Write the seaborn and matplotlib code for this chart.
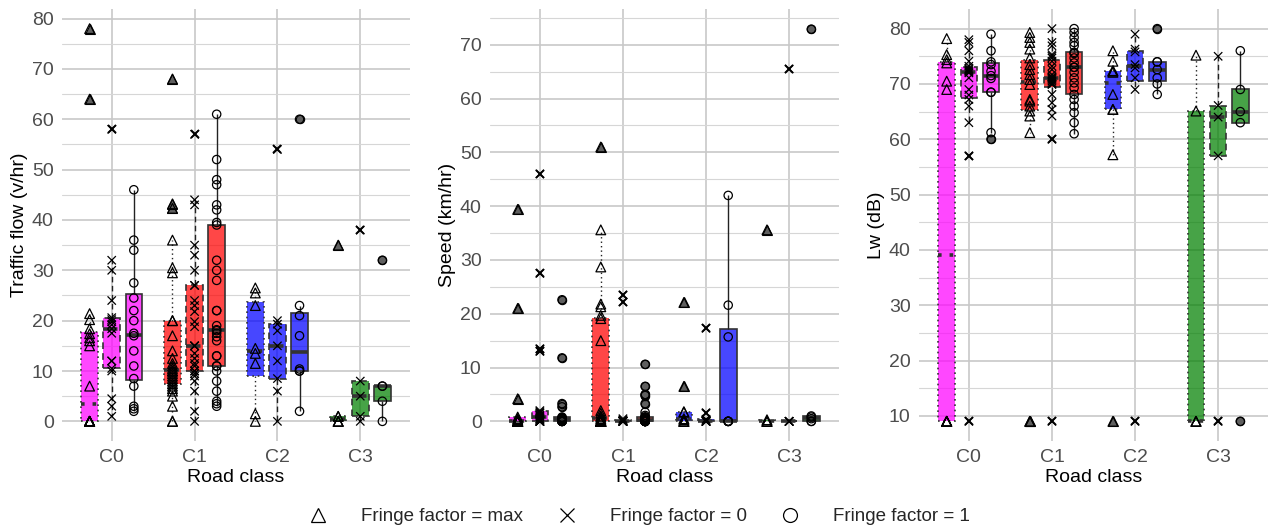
import numpy as np
import pandas as pd
import matplotlib
matplotlib.use("Agg")
import matplotlib.pyplot as plt
import seaborn as sns
from matplotlib.lines import Line2D
from matplotlib.colors import to_rgba
from matplotlib.ticker import MultipleLocator

# ---------------- data ----------------
classes = ["C0", "C1", "C2", "C3"]
fringe_levels = ["max", "0", "1"]
fringe_labels = ["Fringe factor = max", "Fringe factor = 0", "Fringe factor = 1"]
class_colors = ["#FF00FF", "#FF0000", "#0000FF", "#008000"]

# Traffic flow (v/hr)
flow_max = {
    "C0": [0, 0, 0, 0, 0, 0, 0, 0, 0, 0, 7, 15, 16, 16.6, 17.4, 18.4, 20.2, 21.4, 64, 78],
    "C1": [0, 0, 3, 5, 6, 6.5, 7, 7.5, 8, 8.5, 9, 9.5, 10, 10, 10.5, 11, 11.5, 12.5, 14, 17,
           20, 20, 29.5, 30.5, 36, 42.3, 43.2, 68],
    "C2": [0, 1.5, 11.5, 13.5, 14.5, 23, 25.5, 26.5],
    "C3": [0, 0, 0, 1, 1, 35],
}
flow_0 = {
    "C0": [1, 3, 4.5, 10, 10.5, 12, 12, 17.5, 18.4, 19.2, 19.8, 20.2, 20.6, 24, 30, 32, 58],
    "C1": [0, 2, 6, 8, 9, 9.5, 10, 10, 11, 11.5, 12.5, 13.5, 15, 15, 15, 18.8, 19.8, 21.8, 23,
           24, 27, 27, 30, 33, 35, 43, 44, 57],
    "C2": [0, 6, 8.5, 12, 15, 18, 19.3, 20, 54],
    "C3": [0, 1, 5, 8, 38],
}
flow_1 = {
    "C0": [2, 2.5, 3, 7, 8.5, 11, 14, 17, 17.5, 20, 22, 24.5, 27.5, 34, 36, 46],
    "C1": [3, 3.5, 4, 6, 8, 10, 11, 11, 13, 13, 16, 16.8, 17.5, 18, 18.2, 19, 22, 22, 28, 30,
           32, 39, 39.5, 42, 43, 47, 48, 52, 61],
    "C2": [2, 10, 10, 10.4, 17, 21, 23, 60],
    "C3": [0, 4, 7, 7, 32],
}

# Speed (km/hr)
speed_max = {
    "C0": [0, 0, 0, 0, 0, 0, 0, 0, 0.3, 0.5, 0.8, 4.2, 21, 39.4],
    "C1": [0, 0, 0, 0, 0, 0, 0, 0, 0, 0, 0.3, 0.5, 0.8, 1, 1.5, 2, 15, 19.1, 19.7, 21.3, 21.8,
           28.7, 35.6, 51],
    "C2": [0, 0, 0, 0.3, 0.5, 1.7, 1.8, 6.5, 22.1],
    "C3": [0, 0, 0, 0.3, 35.6],
}
speed_0 = {
    "C0": [0, 0, 0, 0, 0, 0.2, 0.3, 0.5, 0.5, 0.8, 1, 1.2, 1.5, 1.6, 1.8, 2, 13, 13.5, 27.5, 46],
    "C1": [0, 0, 0, 0, 0, 0, 0, 0, 0.1, 0.2, 0.3, 0.5, 22.2, 23.5],
    "C2": [0, 0, 0, 0, 0, 0.2, 0.4, 1.6, 17.3],
    "C3": [0, 0, 0, 0, 0, 65.5],
}
speed_1 = {
    "C0": [0, 0, 0, 0, 0, 0, 0.2, 0.3, 0.4, 0.5, 0.5, 0.6, 0.7, 0.8, 2.7, 3.3, 11.8, 22.6],
    "C1": [0, 0, 0, 0, 0, 0, 0, 0, 0, 0, 0, 0, 0, 0, 0.2, 0.3, 0.4, 0.5, 0.6, 0.7, 0.8, 0.8,
           1.1, 1.7, 3.3, 4.8, 5, 6.5, 10.6],
    "C2": [0, 0, 0, 0, 0, 15.7, 21.6, 42],
    "C3": [0, 0, 0.5, 0.8, 1, 72.9],
}

# Lw (dB)
lw_max = {
    "C0": [9, 9, 9, 9, 9, 9, 69, 70.5, 73.8, 74.4, 75.3, 78.2],
    "C1": [9, 9, 61.2, 64.2, 65.1, 66, 66.9, 67.2, 69.9, 70.8, 71.7, 72.6, 73.5, 74.7, 76.3,
           77.5, 78.4, 79.3],
    "C2": [9, 57.2, 65.4, 65.4, 68.1, 72.1, 72.3, 72.4, 74.1, 76],
    "C3": [9, 9, 9, 65.1, 75.2],
}
lw_0 = {
    "C0": [9, 57, 63, 66, 67.2, 68, 69, 71.1, 72, 72.2, 72.4, 72.6, 72.8, 73.2, 74.1, 76, 77.5, 78],
    "C1": [9, 60, 64.2, 65.4, 66.6, 68.1, 69.9, 70, 70.2, 70.5, 70.8, 71, 71.1, 71.3, 71.7, 72.6,
           73.2, 74.1, 74.7, 75, 75.3, 76.9, 77.5, 80],
    "C2": [9, 69, 71.1, 72.9, 73.5, 75.8, 76.3, 79],
    "C3": [9, 57, 64, 66.1, 75],
}
lw_1 = {
    "C0": [60, 61.2, 68.5, 68.5, 71, 71.5, 72.3, 73.5, 74, 76, 79],
    "C1": [61, 63, 64.8, 66, 67.2, 68.1, 69.3, 70.2, 71.1, 72.1, 73, 73, 73.8, 74.7, 75.5, 75.7,
           76.9, 77.5, 78.4, 79.3, 80],
    "C2": [68.1, 70, 71.1, 72.6, 74, 74, 80],
    "C3": [9, 63, 65, 69, 76],
}

panel_titles = ["Traffic flow (v/hr)", "Speed (km/hr)", "Lw (dB)"]
panel_data = [(flow_max, flow_0, flow_1), (speed_max, speed_0, speed_1), (lw_max, lw_0, lw_1)]
panel_ylim = [(-3.9, 81.9), (-3.65, 76.65), (5.45, 83.55)]


def to_frame(groups):
    rows = []
    for f, g in zip(fringe_levels, groups):
        for c in classes:
            for v in g[c]:
                rows.append((c, f, v))
    return pd.DataFrame(rows, columns=["cls", "fringe", "val"])


# ---------------- style ----------------
sns.set_style("white")
plt.rcParams["font.family"] = ["Liberation Sans", "DejaVu Sans"]

markers = {"max": "^", "0": "x", "1": "o"}
msize = {"max": 7, "0": 6, "1": 6}
lstyles = {"max": (0, (1, 2.2)), "0": (0, (4, 2.5)), "1": "-"}
edge = "#333333"

fig = plt.figure(figsize=(12.71, 5.31), dpi=100)
bounds = [(62, 410), (490, 839), (919, 1268)]
W, H = 1271, 531
axes = [fig.add_axes([l / W, (H - 441) / H, (r - l) / W, 432 / H]) for l, r in bounds]

for ax, groups, ylab, ylim in zip(axes, panel_data, panel_titles, panel_ylim):
    df = to_frame(groups)
    for f in fringe_levels:
        sub = df[df["fringe"] == f]
        sns.boxplot(data=sub, x="cls", y="val", hue="fringe", order=classes,
                    hue_order=fringe_levels, dodge=True, width=0.8, gap=0.25,
                    showcaps=False, linewidth=1.2, linecolor=edge, saturation=1,
                    palette=["white"] * 3, legend=False, ax=ax, whis=1.5,
                    medianprops=dict(linewidth=2.6, color=edge),
                    flierprops=dict(marker=markers[f], markersize=msize[f],
                                    markerfacecolor="#5f5f5f", markeredgecolor="black",
                                    markeredgewidth=0.8))
        cont = ax.containers[-1]
        for i, box in enumerate(cont.boxes):
            box.set_facecolor(to_rgba(class_colors[i], 0.72))
            box.set_edgecolor(edge)
            box.set_linestyle(lstyles[f])
            box.set_zorder(2)
        for w in cont.whiskers:
            w.set_linestyle(lstyles[f])
            w.set_color("#222222")
            w.set_linewidth(1.0)
        for m in cont.medians:
            m.set_linestyle(lstyles[f] if f != "0" else (0, (4, 1.5)))
            m.set_zorder(2.5)
        for fl in cont.fliers:
            fl.set_marker(markers[f])
            fl.set_markersize(msize[f])
            fl.set_markerfacecolor("#5f5f5f")
            fl.set_markeredgecolor("black")
            fl.set_markeredgewidth(0.8 if f != "0" else 1.4)
            fl.set_zorder(3)

        n1 = len(ax.collections)
        sns.stripplot(data=sub, x="cls", y="val", hue="fringe", order=classes,
                      hue_order=fringe_levels, dodge=True, jitter=False,
                      marker=markers[f], size=msize[f], legend=False, ax=ax,
                      palette=["black"] * 3)
        for coll in ax.collections[n1:]:
            coll.set_facecolor("none")
            coll.set_edgecolor("black")
            coll.set_linewidth(0.9)
            coll.set_zorder(4)

    ax.set_xlim(-0.6, 3.6)
    ax.set_ylim(*ylim)
    ax.yaxis.set_major_locator(MultipleLocator(10))
    ax.yaxis.set_minor_locator(MultipleLocator(5))
    ax.set_axisbelow(True)
    ax.grid(which="major", axis="both", color="#C8C8C8", linewidth=1.2)
    ax.grid(which="minor", axis="y", color="#D6D6D6", linewidth=0.8)
    ax.tick_params(which="minor", length=0)
    ax.tick_params(which="major", length=4, width=0.8, color=edge, labelsize=14,
                   labelcolor="#4D4D4D", pad=2)
    for s in ax.spines.values():
        s.set_visible(False)
    ax.set_xlabel("Road class", fontsize=14, color="black", labelpad=2)
    ax.set_ylabel(ylab, fontsize=14, color="black", labelpad=3)

handles = [Line2D([], [], marker=markers[f], linestyle="none", markerfacecolor="none",
                  markeredgecolor="black", markersize=10, markeredgewidth=0.9)
           for f in fringe_levels]
fig.legend(handles, fringe_labels, loc="center", bbox_to_anchor=(0.503, 0.027), ncol=3,
           frameon=False, fontsize=13.5, handlelength=1.0, handletextpad=1.8,
           columnspacing=1.8)

fig.savefig("out.png", dpi=100)
